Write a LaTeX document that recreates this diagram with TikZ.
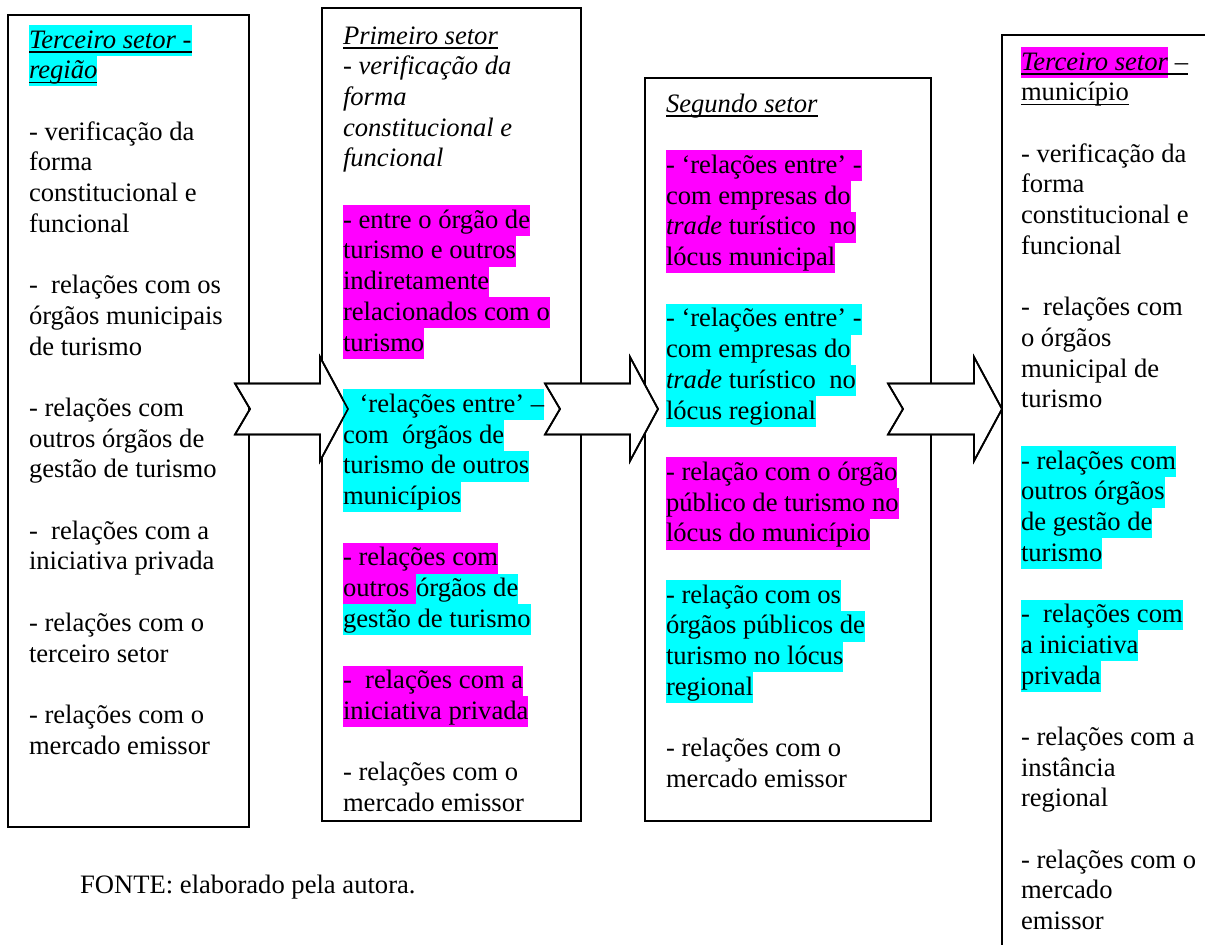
\documentclass[tikz,border=0pt]{standalone}
\usepackage{fontspec}
\setmainfont{Liberation Serif}
\usetikzlibrary{calc}

\definecolor{hlmag}{RGB}{255,0,255}
\definecolor{hlcyan}{RGB}{0,255,255}

% one text line: height + depth equal to the line pitch
\newcommand\lnstrut{\rule[-7.7pt]{0pt}{30.7pt}}
% highlighted line
\newcommand\hl[2]{{\setlength{\fboxsep}{0pt}\colorbox{#1}{\lnstrut#2}}}
% underline at a fixed distance below the baseline
\newcommand\ulx[1]{\setbox0=\hbox{#1}\rlap{\rule[-4.6pt]{\wd0}{1.7pt}}\box0}

% notched block arrow from a tail point to a tip point
\newcommand\notchedarrow[3][]{%
  \path[#1] let \p1=(#2), \p2=(#3) in
    (\x1,\y1+25.5pt) -- (\x2-28pt,\y1+25.5pt) -- (\x2-28pt,\y1+52pt) --
    (\x2,\y1) -- (\x2-28pt,\y1-52pt) -- (\x2-28pt,\y1-25.5pt) --
    (\x1,\y1-25.5pt) -- (\x1+15pt,\y1) -- cycle;}

\tikzset{
  sectorbox/.style={draw=black, fill=white, line width=1.7pt, inner sep=0pt,
    outer sep=0pt, anchor=north west},
  blockarrow/.style={draw=black, fill=white, line width=1.7pt, line join=miter},
  arrowline/.style={draw=black, line width=1.7pt, line join=miter},
  boxtext/.style={anchor=north west, inner sep=0pt, outer sep=0pt, align=left,
    font=\fontsize{26.6pt}{30.7pt}\selectfont},
}

\begin{document}
\begin{tikzpicture}[x=1pt, y=-1pt]
\useasboundingbox (0,0) rectangle (1205,945);
\clip (0,0) rectangle (1205,945);
\fill[white] (0,0) rectangle (1205,945);

% the four sector boxes
\node[sectorbox, minimum width=241pt, minimum height=812pt] (b1) at (8,15) {};
\node[sectorbox, minimum width=259pt, minimum height=813pt] (b2) at (322,8) {};
\node[sectorbox, minimum width=286pt, minimum height=743pt] (b3) at (645,78) {};
\node[sectorbox, minimum width=240pt, minimum height=960pt] (b4) at (1002,35) {};

% arrow ends
\coordinate (lvl) at (0,409);
\coordinate (a1s) at ($(b1.east|-lvl)+(-14,0)$);
\coordinate (a1e) at ($(b2.west|-lvl)+(26,0)$);
\coordinate (a2s) at ($(b2.east|-lvl)+(-36,0)$);
\coordinate (a2e) at ($(b3.west|-lvl)+(13,0)$);
\coordinate (a3s) at ($(b3.east|-lvl)+(-43,0)$);
\coordinate (a3e) at (b4.west|-lvl);

\notchedarrow[blockarrow]{a1s}{a1e}
\notchedarrow[blockarrow]{a2s}{a2e}
\notchedarrow[blockarrow]{a3s}{a3e}

% box contents
\node[boxtext] (t1) at ($(b1.north west)+(21,10)$) {%
\hl{hlcyan}{\ulx{\textit{Terceiro setor -}}}\\
\hl{hlcyan}{\ulx{\textit{região}}}\\
\lnstrut\\
\lnstrut- verificação da\\
\lnstrut forma\\
\lnstrut constitucional e\\
\lnstrut funcional\\
\lnstrut\\
\lnstrut-\ \ relações com os\\
\lnstrut órgãos municipais\\
\lnstrut de turismo\\
\lnstrut\\
\lnstrut- relações com\\
\lnstrut outros órgãos de\\
\lnstrut gestão de turismo\\
\lnstrut\\
\lnstrut-\ \ relações com a\\
\lnstrut iniciativa privada\\
\lnstrut\\
\lnstrut- relações com o\\
\lnstrut terceiro setor\\
\lnstrut\\
\lnstrut- relações com o\\
\lnstrut mercado emissor};

\node[boxtext] (t2) at ($(b2.north west)+(21,13)$) {%
\lnstrut\ulx{\textit{Primeiro setor}}\\
\lnstrut\textit{- verificação da}\\
\lnstrut\textit{forma}\\
\lnstrut\textit{constitucional e}\\
\lnstrut\textit{funcional}\\
\lnstrut\\
\hl{hlmag}{- entre o órgão de}\\
\hl{hlmag}{turismo e outros}\\
\hl{hlmag}{indiretamente}\\
\hl{hlmag}{relacionados com o}\\
\hl{hlmag}{turismo}\\
\lnstrut\\
\hl{hlcyan}{\hspace*{16.6pt}‘relações entre’ –}\\
\hl{hlcyan}{com\ \ órgãos de}\\
\hl{hlcyan}{turismo de outros}\\
\hl{hlcyan}{municípios}\\
\lnstrut\\
\hl{hlmag}{- relações com}\\
\hl{hlmag}{outros\ }\hl{hlcyan}{órgãos de}\\
\hl{hlcyan}{gestão de turismo}\\
\lnstrut\\
\hl{hlmag}{-\ \ relações com a}\\
\hl{hlmag}{iniciativa privada}\\
\lnstrut\\
\lnstrut- relações com o\\
\lnstrut mercado emissor};

\node[boxtext] (t3) at ($(b3.north west)+(21,11)$) {%
\lnstrut\ulx{\textit{Segundo setor}}\\
\lnstrut\\
\hl{hlmag}{- ‘relações entre’ -}\\
\hl{hlmag}{com empresas do}\\
\hl{hlmag}{\textit{trade} turístico\ \ no}\\
\hl{hlmag}{lócus municipal}\\
\lnstrut\\
\hl{hlcyan}{- ‘relações entre’ -}\\
\hl{hlcyan}{com empresas do}\\
\hl{hlcyan}{\textit{trade} turístico\ \ no}\\
\hl{hlcyan}{lócus regional}\\
\lnstrut\\
\hl{hlmag}{- relação com o órgão}\\
\hl{hlmag}{público de turismo no}\\
\hl{hlmag}{lócus do município}\\
\lnstrut\\
\hl{hlcyan}{- relação com os}\\
\hl{hlcyan}{órgãos públicos de}\\
\hl{hlcyan}{turismo no lócus}\\
\hl{hlcyan}{regional}\\
\lnstrut\\
\lnstrut- relações com o\\
\lnstrut mercado emissor};

\node[boxtext] (t4) at ($(b4.north west)+(19,12)$) {%
\hl{hlmag}{\ulx{\textit{Terceiro setor}}}\ulx{\lnstrut\ –}\\
\lnstrut\ulx{município}\\
\lnstrut\\
\lnstrut- verificação da\\
\lnstrut forma\\
\lnstrut constitucional e\\
\lnstrut funcional\\
\lnstrut\\
\lnstrut-\ \ relações com\\
\lnstrut o órgãos\\
\lnstrut municipal de\\
\lnstrut turismo\\
\lnstrut\\
\hl{hlcyan}{- relações com}\\
\hl{hlcyan}{outros órgãos}\\
\hl{hlcyan}{de gestão de}\\
\hl{hlcyan}{turismo}\\
\lnstrut\\
\hl{hlcyan}{-\ \ relações com}\\
\hl{hlcyan}{a iniciativa}\\
\hl{hlcyan}{privada}\\
\lnstrut\\
\lnstrut- relações com a\\
\lnstrut instância\\
\lnstrut regional\\
\lnstrut\\
\lnstrut- relações com o\\
\lnstrut mercado\\
\lnstrut emissor};

% arrow outlines stay visible over the highlighted text
\notchedarrow[arrowline]{a1s}{a1e}
\notchedarrow[arrowline]{a2s}{a2e}
\notchedarrow[arrowline]{a3s}{a3e}

% source line
\node[anchor=base west, inner sep=0pt, font=\fontsize{26.6pt}{30.7pt}\selectfont]
  (src) at (80,893) {FONTE: elaborado pela autora.};
\end{tikzpicture}
\end{document}
